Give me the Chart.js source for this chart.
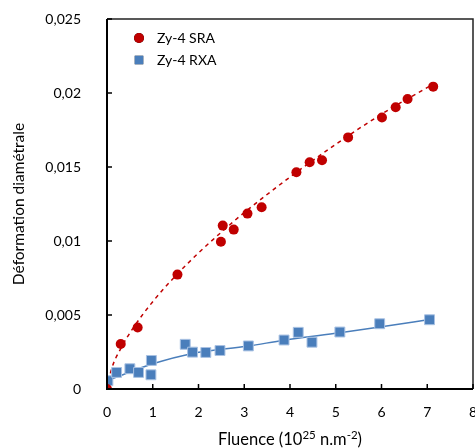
<!DOCTYPE html>
<html>
<head>
<meta charset="utf-8">
<script src="https://cdn.jsdelivr.net/npm/chart.js@4/dist/chart.umd.min.js"></script>
<style>
  body { margin: 0; background: #fff; }
  #wrap { width: 475px; height: 448px; }
</style>
</head>
<body>
<div id="wrap"><canvas id="grafik"></canvas></div>
<script>
// Data
const sraFluence = [0, 0.30, 0.67, 1.54, 2.49, 2.53, 2.77, 3.07, 3.38, 4.14, 4.43, 4.70, 5.27, 6.01, 6.31, 6.57, 7.13];
const sraDeform = [0, 0.00304, 0.00415, 0.00773, 0.00995, 0.01104, 0.01077, 0.01185, 0.01228, 0.01465, 0.01532, 0.01546, 0.0170, 0.01835, 0.01904, 0.0196, 0.02043];

const rxaFluence = [0.02, 0.21, 0.50, 0.69, 0.96, 0.97, 1.71, 1.87, 2.16, 2.47, 3.09, 3.87, 4.18, 4.48, 5.09, 5.96, 7.05];
const rxaDeform = [0.00056, 0.00112, 0.00137, 0.00112, 0.00096, 0.00193, 0.00302, 0.00249, 0.00247, 0.0026, 0.00291, 0.00331, 0.00383, 0.00316, 0.00385, 0.00441, 0.00468];

// Courbes de tendance
const sraTrendX = [0, 0.1, 0.3, 0.6, 1, 1.5, 2, 2.5, 3, 4, 5, 6, 7.13];
const sraTrendY = [0, 0.00135, 0.00273, 0.00425, 0.0059, 0.00765, 0.00919, 0.0106, 0.01192, 0.01432, 0.01653, 0.01857, 0.0206];
const rxaTrendX = [0, 0.5, 1, 1.87, 3.09, 3.87, 5.09, 6, 7.05];
const rxaTrendY = [0.00055, 0.00115, 0.0017, 0.0024, 0.0029, 0.0033, 0.0038, 0.0042, 0.0047];

const xTicks = [0, 1, 2, 3, 4, 5, 6, 7, 8];
const yTicks = [0, 0.005, 0.01, 0.015, 0.02, 0.025];

const FONT = 'Lato, Calibri, sans-serif';

function toPoints(xs, ys) {
    return xs.map((x, i) => ({ x: x, y: ys[i] }));
}

// Cadre, graduations intérieures, légende et titre de l'axe X
const framePlugin = {
    id: 'frame',
    afterDatasetsDraw(chart) {
        const { ctx, chartArea: a, scales } = chart;
        ctx.save();
        ctx.strokeStyle = '#222';
        ctx.lineWidth = 1.5;
        ctx.beginPath();
        ctx.moveTo(a.left, a.top);
        ctx.lineTo(a.right, a.top);
        ctx.lineTo(a.right, a.bottom);
        ctx.stroke();
        ctx.strokeStyle = '#000';
        ctx.lineWidth = 2;
        ctx.beginPath();
        ctx.moveTo(a.left, a.top);
        ctx.lineTo(a.left, a.bottom);
        ctx.lineTo(a.right, a.bottom);
        ctx.stroke();
        ctx.lineWidth = 1.5;
        ctx.beginPath();
        xTicks.forEach(v => {
            const px = scales.x.getPixelForValue(v);
            ctx.moveTo(px, a.bottom);
            ctx.lineTo(px, a.bottom - 5);
        });
        yTicks.forEach(v => {
            const py = scales.y.getPixelForValue(v);
            ctx.moveTo(a.left, py);
            ctx.lineTo(a.left + 5, py);
        });
        ctx.stroke();

        // Légende
        const items = chart.data.datasets.filter(d => !d.label.startsWith('trend'));
        ctx.font = '14px ' + FONT;
        ctx.textBaseline = 'middle';
        ctx.textAlign = 'left';
        items.forEach((d, i) => {
            const cx = a.left + 32;
            const cy = a.top + 19 + i * 22;
            Chart.helpers.drawPoint(ctx, {
                pointStyle: d.pointStyle,
                radius: d.pointStyle === 'rect' ? 6 : 5,
                borderWidth: 0
            }, cx, cy);
            ctx.fillStyle = d.backgroundColor;
            ctx.fill();
            ctx.fillStyle = '#000';
            ctx.fillText(d.label, cx + 18, cy);
        });

        // Titre X avec exposants
        const parts = [
            { t: 'Fluence (10', sup: false },
            { t: '25', sup: true },
            { t: ' n.m', sup: false },
            { t: '-2', sup: true },
            { t: ')', sup: false }
        ];
        const big = '16.5px ' + FONT, small = '11.5px ' + FONT;
        let total = 0;
        parts.forEach(p => { ctx.font = p.sup ? small : big; total += ctx.measureText(p.t).width; });
        let x = 290 - total / 2;
        const y = 440;
        ctx.textBaseline = 'middle';
        parts.forEach(p => {
            ctx.font = p.sup ? small : big;
            ctx.fillText(p.t, x, p.sup ? y - 5 : y);
            x += ctx.measureText(p.t).width;
        });
        ctx.restore();
    }
};

const ctx = document.getElementById('grafik').getContext('2d');
new Chart(ctx, {
    type: 'scatter',
    data: {
        datasets: [
            {
                label: 'Zy-4 SRA',
                data: toPoints(sraFluence, sraDeform),
                backgroundColor: '#c00000',
                borderColor: '#c00000',
                pointStyle: 'circle',
                pointRadius: 5,
                borderWidth: 0,
                order: 1
            },
            {
                label: 'Zy-4 RXA',
                data: toPoints(rxaFluence, rxaDeform),
                backgroundColor: '#4a7ebb',
                borderColor: '#a9c2e3',
                pointStyle: 'rect',
                pointRadius: 7,
                borderWidth: 1,
                order: 2
            },
            {
                label: 'trend SRA',
                data: toPoints(sraTrendX, sraTrendY),
                showLine: true,
                borderColor: '#c00000',
                borderWidth: 1.5,
                borderDash: [4, 4],
                pointRadius: 0,
                cubicInterpolationMode: 'monotone',
                order: 3
            },
            {
                label: 'trend RXA',
                data: toPoints(rxaTrendX, rxaTrendY),
                showLine: true,
                borderColor: '#4a7ebb',
                borderWidth: 1.5,
                pointRadius: 0,
                cubicInterpolationMode: 'monotone',
                order: 4
            }
        ]
    },
    options: {
        responsive: true,
        maintainAspectRatio: false,
        animation: false,
        layout: { autoPadding: false, padding: { top: 19, right: 2, left: 0, bottom: 0 } },
        plugins: {
            tooltip: { enabled: false },
            legend: { display: false }
        },
        scales: {
            x: {
                type: 'linear',
                min: 0,
                max: 8,
                afterFit(scale) { scale.height = 59; scale.paddingRight = 0; scale.paddingLeft = 0; },
                afterBuildTicks(scale) { scale.ticks = xTicks.map(v => ({ value: v })); },
                grid: { display: false, drawTicks: false },
                border: { display: false },
                ticks: { color: '#000', padding: 15, maxRotation: 0, font: { family: FONT, size: 14 } }
            },
            y: {
                type: 'linear',
                min: 0,
                max: 0.025,
                afterFit(scale) { scale.width = 107; scale.paddingTop = 0; scale.paddingBottom = 0; },
                afterBuildTicks(scale) { scale.ticks = yTicks.map(v => ({ value: v })); },
                grid: { display: false, drawTicks: false },
                border: { display: false },
                ticks: {
                    color: '#000',
                    padding: 26,
                    font: { family: FONT, size: 14 },
                    callback: v => v.toLocaleString('fr-FR', { maximumFractionDigits: 3 })
                },
                title: {
                    display: true,
                    text: 'Déformation diamétrale',
                    color: '#000',
                    padding: { top: 10, bottom: 0 },
                    font: { family: FONT, size: 15.5 }
                }
            }
        }
    },
    plugins: [framePlugin]
});
</script>
</body>
</html>
